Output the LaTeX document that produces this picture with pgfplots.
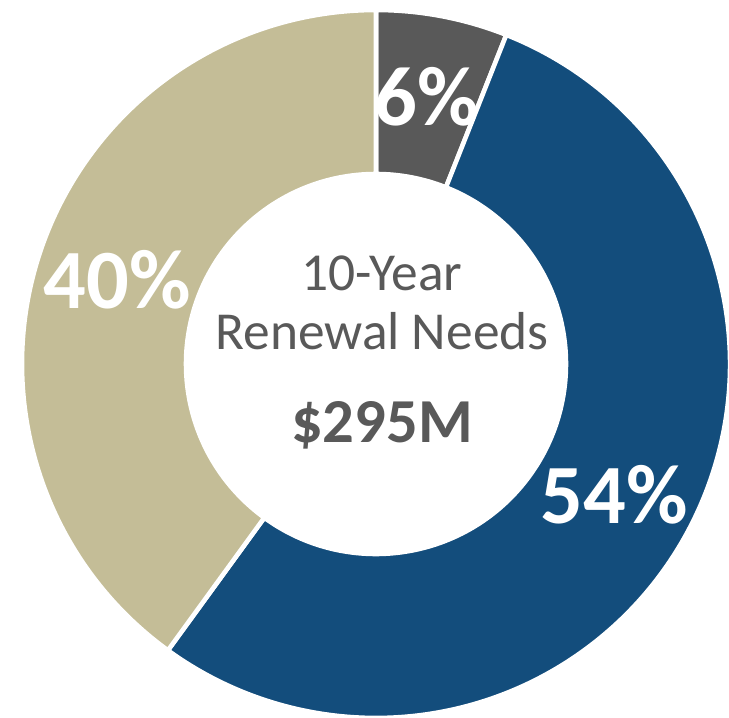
\documentclass[border=0pt]{standalone}
\usepackage{pgfplots}
\pgfplotsset{compat=1.18}
\usepackage{fontspec}
\setmainfont{Carlito}
\definecolor{segGray}{HTML}{595959}
\definecolor{segBlue}{HTML}{134D7C}
\definecolor{segTan}{HTML}{C4BD97}
\definecolor{txtGray}{HTML}{595959}

% shares in percent, clockwise from 12 o'clock
\def\vA{6}
\def\vB{54}
\def\vC{40}
\def\ro{3.54}
\def\ri{1.90}
\def\rl{2.72}

\newcommand\seg[3]{%
  \fill[#3, draw=white, line width=1.3pt]
    ([shift={(#1:\ro cm)}]axis cs:3.76,3.54)
    arc[start angle=#1, end angle=#2, radius=\ro cm]
    -- ([shift={(#2:\ri cm)}]axis cs:3.76,3.54)
    arc[start angle=#2, end angle=#1, radius=\ri cm] -- cycle;}

\begin{document}
\begin{tikzpicture}
\pgfmathsetmacro{\aA}{90}
\pgfmathsetmacro{\aB}{90-3.6*\vA}
\pgfmathsetmacro{\aC}{\aB-3.6*\vB}
\pgfmathsetmacro{\aD}{\aC-3.6*\vC}
\pgfmathsetmacro{\mA}{(\aA+\aB)/2}
\pgfmathsetmacro{\mB}{(\aB+\aC)/2}
\pgfmathsetmacro{\mC}{(\aC+\aD)/2}
\useasboundingbox (0,0) rectangle (7.29,7.18);
\begin{axis}[
    at={(0,0)}, anchor=south west,
    width=7.29cm, height=7.18cm, scale only axis,
    xmin=0, xmax=7.29, ymin=0, ymax=7.18,
    hide axis, clip=false]
  \seg{\aA}{\aB}{segGray}
  \seg{\aB}{\aC}{segBlue}
  \seg{\aC}{\aD}{segTan}
  % percentage labels
  \node[white, font=\bfseries\fontsize{24}{24}\selectfont]
    at ([shift={(\mA:\rl cm)}]axis cs:3.76,3.54) {\vA\%};
  \node[white, font=\bfseries\fontsize{24}{24}\selectfont]
    at ([shift={(\mB:\rl cm)}]axis cs:3.76,3.54) {\vB\%};
  \node[white, font=\bfseries\fontsize{24}{24}\selectfont]
    at ([shift={(\mC:\rl cm)}]axis cs:3.76,3.54) {\vC\%};
  % centre text
  \node[txtGray, anchor=base, font=\fontsize{15.2}{15.2}\selectfont]
    at (axis cs:3.82,4.27) {10-Year};
  \node[txtGray, anchor=base, font=\fontsize{15.2}{15.2}\selectfont]
    at (axis cs:3.82,3.68) {Renewal Needs};
  \node[txtGray, anchor=base, font=\bfseries\fontsize{17.8}{17.8}\selectfont]
    at (axis cs:3.82,2.75) {\$295M};
\end{axis}
\end{tikzpicture}
\end{document}
